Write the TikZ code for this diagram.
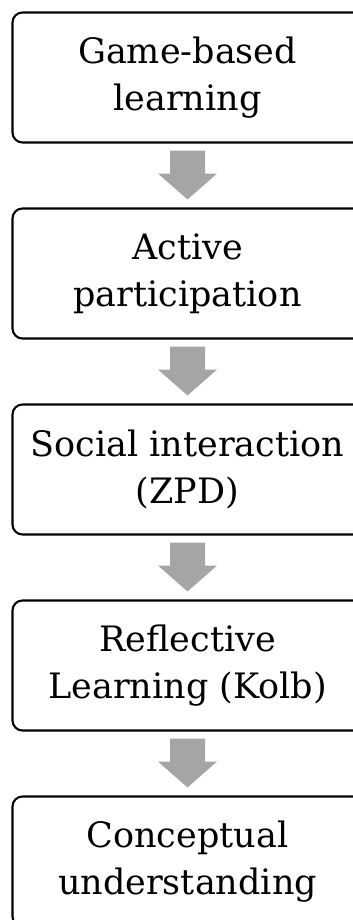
\documentclass[tikz,border=0pt]{standalone}
\usepackage{fontspec}
\setmainfont{DejaVu Serif}
\usetikzlibrary{calc}
\definecolor{arrowgray}{RGB}{165,165,165}
\tikzset{
  stepbox/.style={draw=black, line width=2.1pt, rounded corners=10pt, fill=white,
    minimum width=350pt, minimum height=130pt, align=center, inner sep=0pt,
    font=\fontsize{35}{47}\selectfont},
  flowarrow/.style={fill=arrowgray, draw=none}
}
\newcommand{\downarrowshape}[2]{%
  \fill[flowarrow] ($(#1.south)+(-17.5,-7)$) -- ($(#1.south)+(17.5,-7)$) --
    ($(#1.south)+(17.5,-30)$) -- ($(#1.south)+(29.5,-30)$) --
    ($(#2.north)+(0,8)$) --
    ($(#1.south)+(-29.5,-30)$) -- ($(#1.south)+(-17.5,-30)$) -- cycle;}
\begin{document}
\begin{tikzpicture}[x=1pt,y=1pt]
\useasboundingbox (0,0) rectangle (353,-920);
\clip (0,0) rectangle (353,-920);
\node[stepbox] (b1) at (187.5,-77.5) {Game-based\\learning};
\node[stepbox] (b2) at (187.5,-273.5) {Active\\participation};
\node[stepbox] (b3) at (187.5,-469.5) {Social interaction\\(ZPD)};
\node[stepbox] (b4) at (187.5,-665.5) {Reflective\\Learning (Kolb)};
\node[stepbox] (b5) at (187.5,-861.5) {Conceptual\\understanding};
\downarrowshape{b1}{b2}
\downarrowshape{b2}{b3}
\downarrowshape{b3}{b4}
\downarrowshape{b4}{b5}
\end{tikzpicture}
\end{document}
